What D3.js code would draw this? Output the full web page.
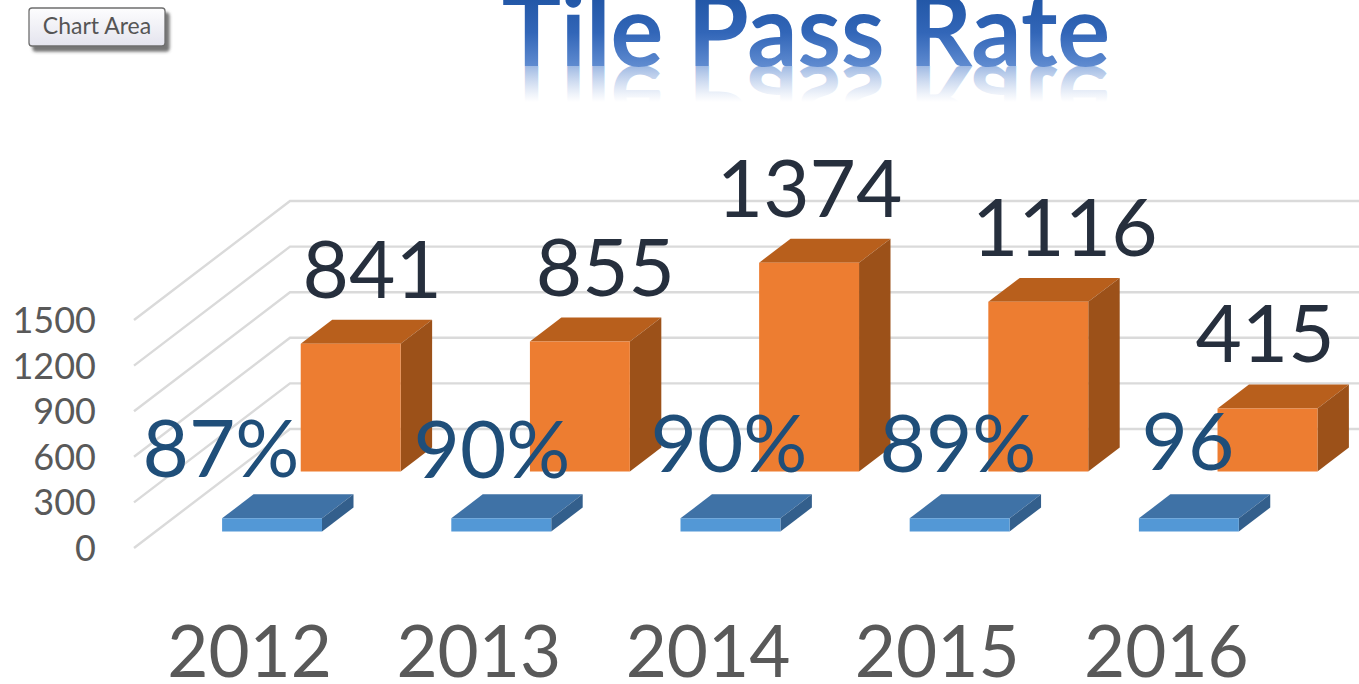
<!DOCTYPE html>
<html><head><meta charset="utf-8">
<script src="https://cdn.jsdelivr.net/npm/d3@7"></script>
<style>html,body{margin:0;background:#fff;overflow:hidden}svg{display:block}text{font-family:Lato,"Open Sans",sans-serif}</style>
</head><body><script>
const categories = ["2012","2013","2014","2015","2016"];
const passRate = [0.87,0.90,0.90,0.89,0.96];
const passCount = [841,855,1374,1116,415];
const rateLabels = ["87%","90%","90%","89%","96"];
const yTicks = [0,300,600,900,1200,1500];
const titleText = "Tile Pass Rate";
const buttonText = "Chart Area";
// hand-placed label nudges, as in the source chart
const countNudgeX = [21,25,0,26,-3];
const rateLabelCenter = [221,492,729,958,1188];
const rateLabelBase = [477,478,472,472,470];

const W=1359,H=684;
const svg=d3.select("body").append("svg").attr("width",W).attr("height",H);
const defs=svg.append("defs");
const g1=defs.append("linearGradient").attr("id","tf").attr("gradientUnits","userSpaceOnUse").attr("x1",0).attr("x2",0).attr("y1",-8).attr("y2",66);
g1.append("stop").attr("offset",0).attr("stop-color","#1f54a3");
g1.append("stop").attr("offset",.55).attr("stop-color","#3266b8");
g1.append("stop").attr("offset",1).attr("stop-color","#5f8bd0");
const g4=defs.append("linearGradient").attr("id","trf").attr("gradientUnits","userSpaceOnUse").attr("x1",0).attr("x2",0).attr("y1",66).attr("y2",30);
g4.append("stop").attr("offset",0).attr("stop-color","#5f8bd0").attr("stop-opacity",.6);
g4.append("stop").attr("offset",1).attr("stop-color","#8aa8dc").attr("stop-opacity",0);
const f=defs.append("filter").attr("id","bs").attr("x","-10%").attr("y","-10%").attr("width","130%").attr("height","140%");
f.append("feDropShadow").attr("dx",4).attr("dy",5).attr("stdDeviation",1.6).attr("flood-color","#555").attr("flood-opacity",.8);
const g3=defs.append("linearGradient").attr("id","bf").attr("x1",0).attr("x2",0).attr("y1",0).attr("y2",1);
g3.append("stop").attr("offset",0).attr("stop-color","#fdfdfe");
g3.append("stop").attr("offset",1).attr("stop-color","#e4e4ee");

// 3D projection scales
const floorY=548, depthX=156, depthY=119;
const x=d3.scaleBand().domain(categories).range([135,1281]).paddingInner(.564).paddingOuter(.282);
const h=d3.scaleLinear().domain([0,1500]).range([0,228]);
const z=d3.scaleBand().domain(["rate","count"]).range([0,1]).paddingInner(.6).paddingOuter(.292);
const P=(px,ph,pz)=>[px+pz*depthX, floorY-ph-pz*depthY];
const poly=pts=>pts.map(p=>p.join(",")).join(" ");

// gridlines: side wall and back wall
const grid=svg.append("g").attr("fill","none").attr("stroke","#dadada").attr("stroke-width",2.4);
grid.selectAll("polyline").data(yTicks).join("polyline")
  .attr("points",d=>poly([P(x.range()[0]-1,h(d),0),P(x.range()[0]-1,h(d),1),P(x.range()[1],h(d),1)]));

// axes
const yFront=d3.scaleLinear().domain([0,1500]).range([floorY,floorY-228]);
const yAxis=svg.append("g").attr("transform","translate(96,1)")
  .call(d3.axisLeft(yFront).tickValues(yTicks).tickFormat(d3.format("d")).tickSize(0).tickPadding(0));
yAxis.select(".domain").remove();
yAxis.selectAll("text").attr("font-size",36).attr("fill","#595959").attr("font-family","Lato");
const xAxis=svg.append("g").attr("transform","translate(0,627)")
  .call(d3.axisBottom(x).tickSize(0).tickPadding(0));
xAxis.select(".domain").remove();
xAxis.selectAll("text").attr("font-size",71).attr("fill","#595959").attr("font-family","Lato");

function box(g,xv,hv,ser,col){
  const x0=x(xv),x1=x0+x.bandwidth(),z0=z(ser),z1=z0+z.bandwidth();
  g.append("polygon").attr("points",poly([P(x0,hv,z0),P(x1,hv,z0),P(x1,hv,z1),P(x0,hv,z1)])).attr("fill",col[1]);
  g.append("polygon").attr("points",poly([P(x1,0,z0),P(x1,hv,z0),P(x1,hv,z1),P(x1,0,z1)])).attr("fill",col[2]);
  g.append("polygon").attr("points",poly([P(x0,0,z0),P(x1,0,z0),P(x1,hv,z0),P(x0,hv,z0)])).attr("fill",col[0]);
}
const orange=["#ed7d31","#b85f1c","#9c5119"], blue=["#5398d6","#3f72a6","#335f8c"];
const floorThickness=13;
const marks=svg.append("g").attr("transform","translate(-0.5,1)");
categories.forEach((c,i)=>box(marks,c,floorThickness+h(passRate[i]),"rate",blue));
categories.forEach((c,i)=>box(marks,c,h(passCount[i]),"count",orange));

// count labels
svg.append("g").selectAll("text").data(passCount).join("text")
  .attr("x",(d,i)=>P(x(categories[i])+x.bandwidth()/2,0,z("count"))[0]+countNudgeX[i])
  .attr("y",d=>P(0,h(d),z("count"))[1]-45)
  .attr("text-anchor","middle").attr("font-size",80).attr("fill","#262f3d").text(d=>d);
// rate labels
svg.append("g").selectAll("text").data(rateLabels).join("text")
  .attr("x",(d,i)=>rateLabelCenter[i]).attr("y",(d,i)=>rateLabelBase[i])
  .attr("text-anchor","middle").attr("font-size",80).attr("fill","#1f4e79").text(d=>d);

// title with reflection
const title=svg.append("g").attr("font-weight",700).attr("font-size",99).attr("text-anchor","middle");
title.append("text").attr("x",806).attr("y",66).attr("fill","url(#tf)").text(titleText);
title.append("g").attr("transform","translate(0,132) scale(1,-1)")
  .append("text").attr("x",806).attr("y",66).attr("fill","url(#trf)").text(titleText);

// tooltip button
const b=svg.append("g");
b.append("rect").attr("x",29).attr("y",8).attr("width",136).attr("height",38).attr("rx",3)
  .attr("fill","url(#bf)").attr("stroke","#6e6e6e").attr("stroke-width",1.3).attr("filter","url(#bs)");
b.append("text").attr("x",97).attr("y",34).attr("text-anchor","middle").attr("font-size",23).attr("fill","#555").text(buttonText);
</script></body></html>
